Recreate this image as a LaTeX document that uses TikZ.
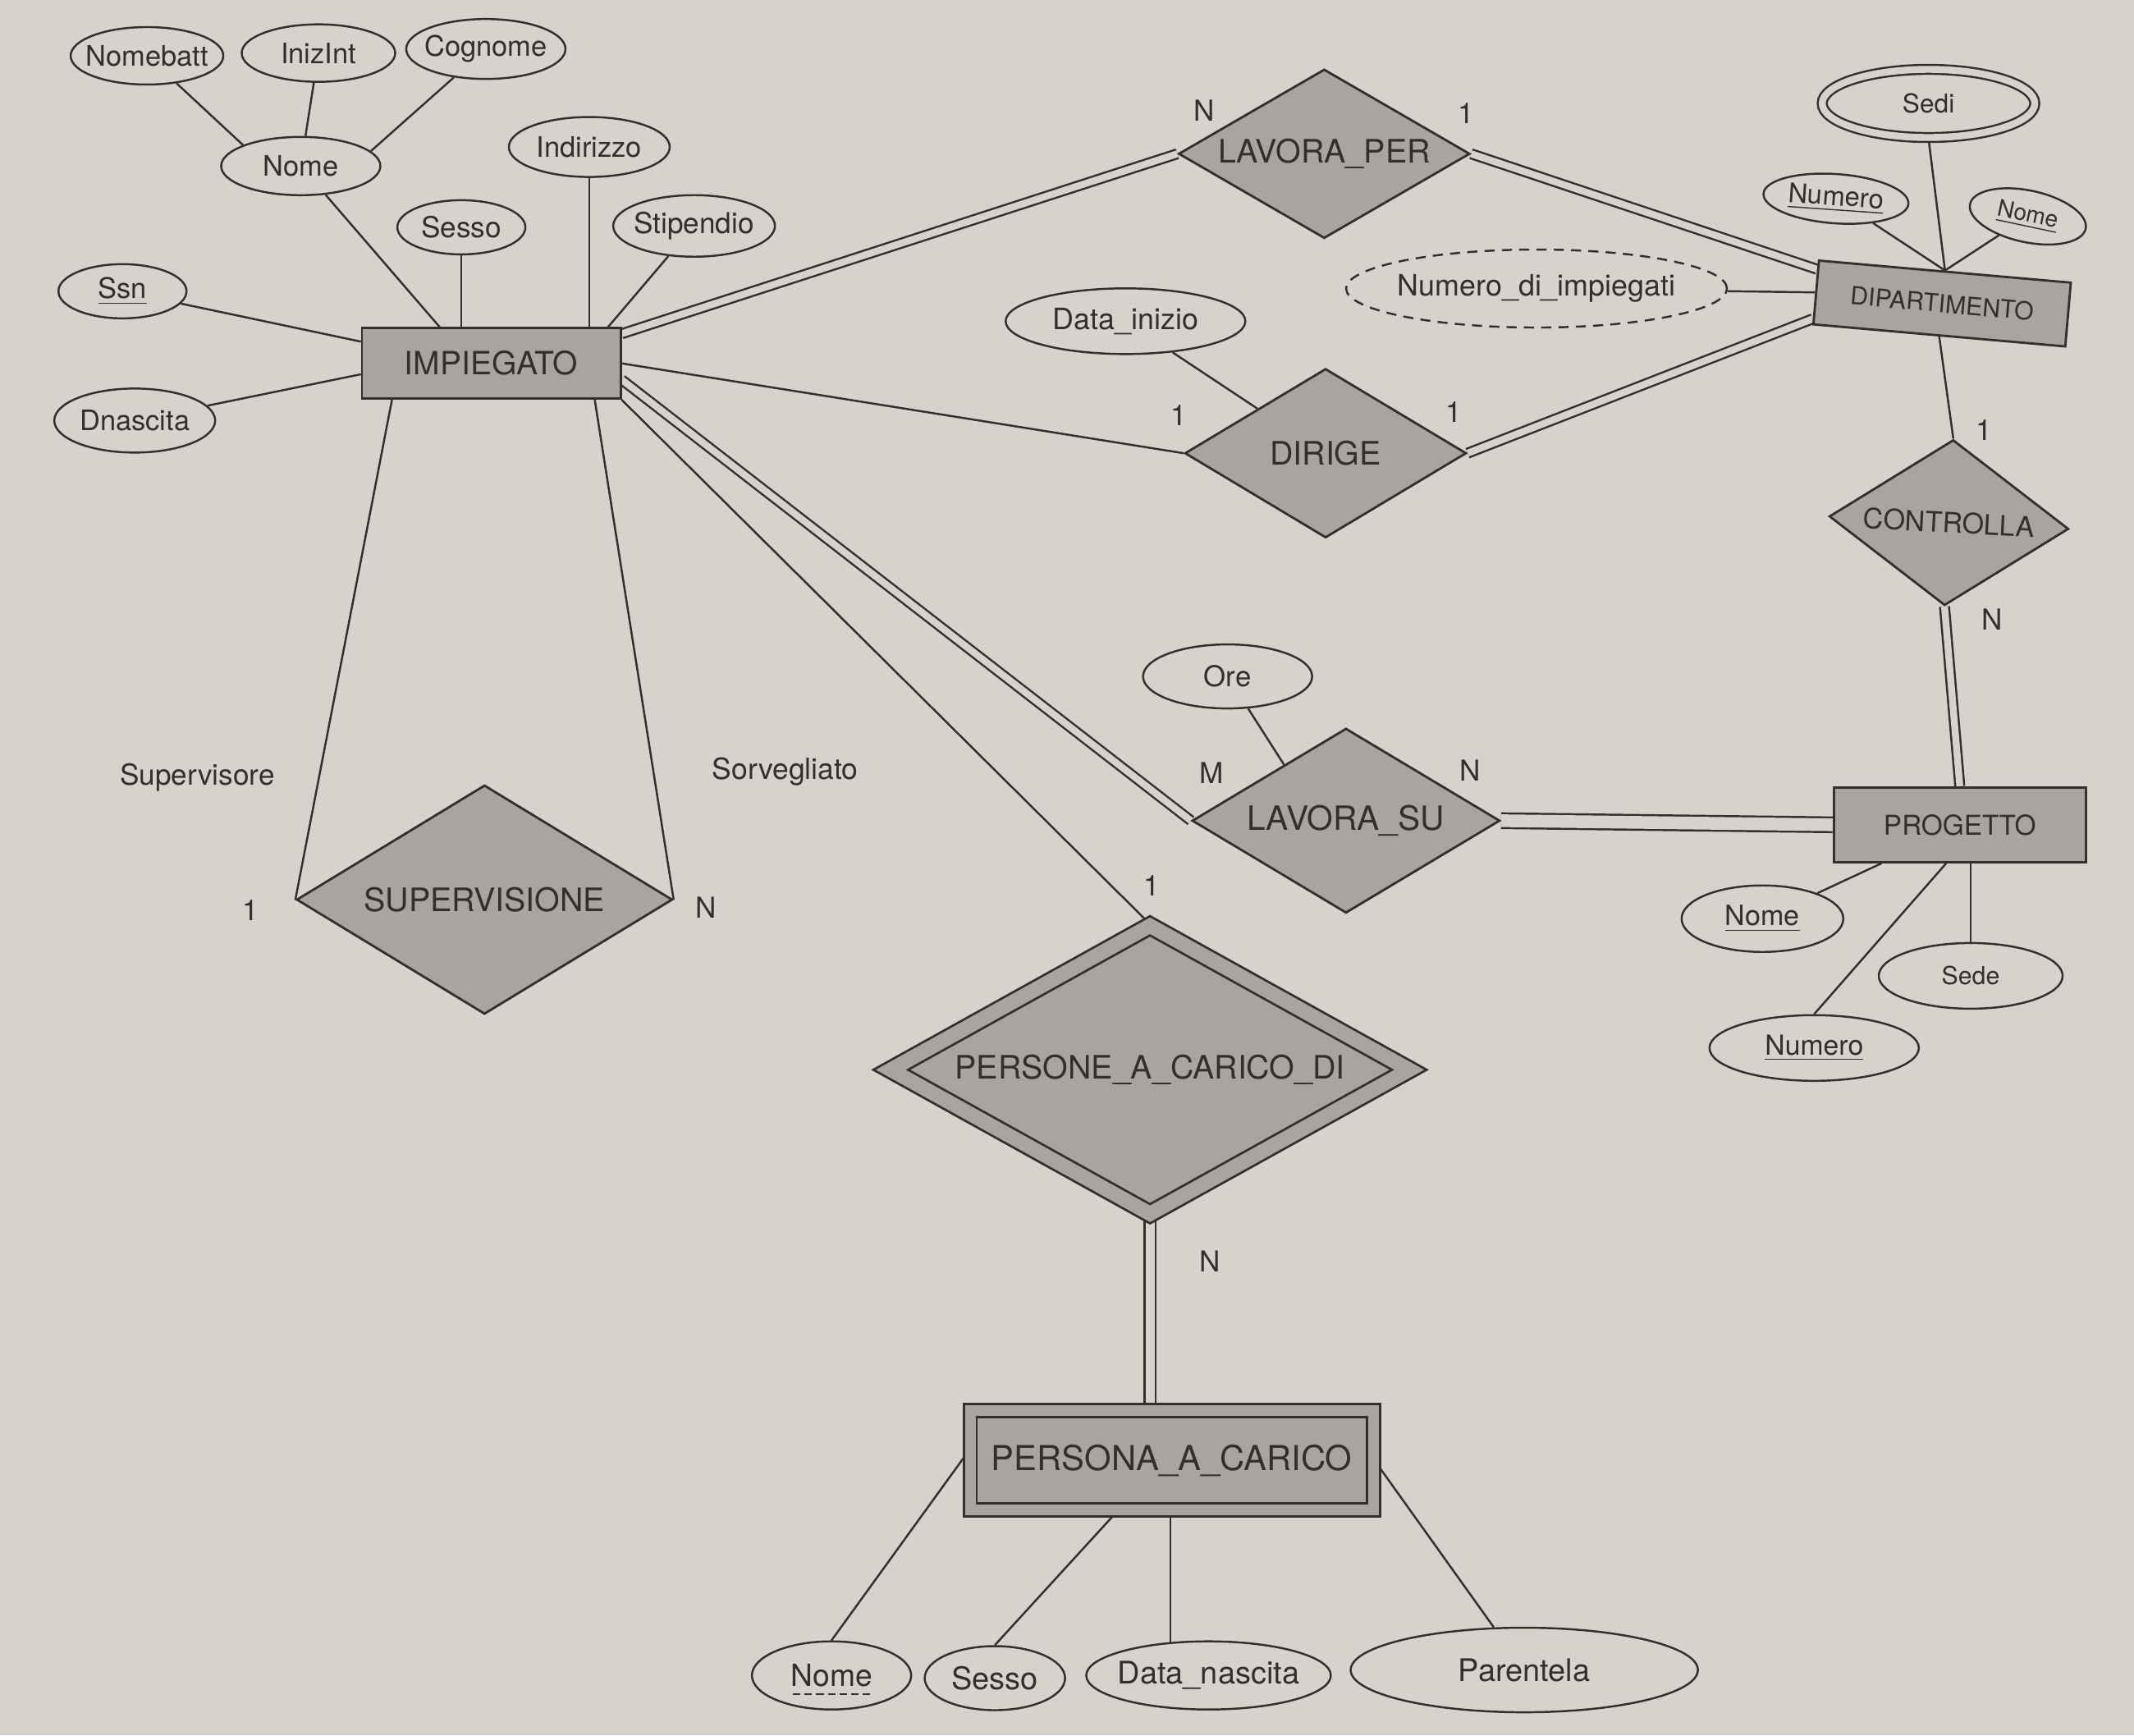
\documentclass[tikz,border=0pt]{standalone}
\usepackage{fontspec}
\setmainfont{TeX Gyre Heros}
\usetikzlibrary{shapes.geometric, calc, backgrounds}
\definecolor{paper}{RGB}{214,211,205}
\definecolor{shade}{RGB}{168,165,160}
\definecolor{ink}{RGB}{50,48,46}
\newcommand{\dashunder}[1]{\setbox0=\hbox{#1}\rlap{\raisebox{-3pt}[0pt][0pt]{\hbox to \wd0{\xleaders\hbox to 4pt{\hss\vrule width 2.6pt height 0.6pt depth 0pt\hss}\hfill}}}\box0}
\tikzset{
  entity/.style={rectangle, draw=ink, fill=shade, line width=0.8pt, inner sep=-1cm, text=ink, font=\fontsize{11.1}{13}\selectfont},
  relation/.style={diamond, draw=ink, fill=shade, line width=0.8pt, inner sep=-2cm, text=ink, font=\fontsize{11.2}{13}\selectfont},
  attr/.style={ellipse, draw=ink, line width=0.7pt, inner sep=-2cm, text=ink, font=\fontsize{9.8}{12}\selectfont},
  card/.style={text=ink, inner sep=0pt, font=\fontsize{10}{12}\selectfont},
  link/.style={draw=ink, line width=0.7pt},
  total/.style={link, double=paper, double distance=2.4pt},
}

\begin{document}
\begin{tikzpicture}[x=0.1658mm, y=-0.1658mm]
  \useasboundingbox (0,0) rectangle (1568,1275);
  % Entita
  \node[entity, minimum width=3.15cm, minimum height=0.86cm] (imp) at (361,267) {IMPIEGATO};
  \node[entity, minimum width=3.08cm, minimum height=0.78cm, rotate=-5, font=\fontsize{8.6}{10}\selectfont] (dip) at (1427,223) {DIPARTIMENTO};
  \node[entity, minimum width=3.07cm, minimum height=0.91cm, font=\fontsize{9.5}{11}\selectfont] (prog) at (1440,606) {PROGETTO};
  \node[entity, double=shade, double distance=3.7pt, minimum width=4.91cm, minimum height=1.21cm, font=\fontsize{11.9}{14}\selectfont] (pac) at (861,1073) {PERSONA\_A\_CARICO};
  % Relazioni
  \node[relation, minimum width=3.55cm, minimum height=2.06cm] (lp) at (973,113) {LAVORA\_PER};
  \node[relation, minimum width=3.43cm, minimum height=2.06cm] (dir) at (974,333) {DIRIGE};
  \node[relation, minimum width=2.92cm, minimum height=2.02cm, rotate=-3, font=\fontsize{9.7}{11}\selectfont] (ctl) at (1432,384) {CONTROLLA};
  \node[relation, minimum width=3.75cm, minimum height=2.25cm, font=\fontsize{11.6}{13}\selectfont] (ls) at (989,603) {LAVORA\_SU};
  \node[relation, minimum width=4.58cm, minimum height=2.79cm] (sup) at (356,661) {SUPERVISIONE};
  \node[relation, double=shade, double distance=5pt, minimum width=6.33cm, minimum height=3.52cm] (pcd) at (845,786) {PERSONE\_A\_CARICO\_DI};
  % Attributi di IMPIEGATO
  \node[attr, minimum width=1.86cm, minimum height=0.70cm] (nomebatt) at (108,41) {Nomebatt};
  \node[attr, minimum width=1.87cm, minimum height=0.70cm] (inizint) at (234,39) {InizInt};
  \node[attr, minimum width=1.94cm, minimum height=0.73cm] (cognome) at (357,36) {Cognome};
  \node[attr, minimum width=1.94cm, minimum height=0.71cm] (nome) at (221,122) {Nome};
  \node[attr, minimum width=1.96cm, minimum height=0.73cm] (indirizzo) at (433,108) {Indirizzo};
  \node[attr, minimum width=1.56cm, minimum height=0.66cm, font=\fontsize{10}{12}\selectfont] (sesso) at (339,167) {Sesso};
  \node[attr, minimum width=1.97cm, minimum height=0.75cm, font=\fontsize{10}{12}\selectfont] (stipendio) at (510,166) {Stipendio};
  \node[attr, minimum width=1.56cm, minimum height=0.66cm] (ssn) at (90,214) {\underline{Ssn}};
  \node[attr, minimum width=1.96cm, minimum height=0.78cm] (dnascita) at (99,309) {Dnascita};
  % Attributi di DIPARTIMENTO e delle relazioni
  \node[attr, minimum width=2.92cm, minimum height=0.80cm, font=\fontsize{10.2}{12}\selectfont] (datainizio) at (827,236) {Data\_inizio};
  \node[attr, dashed, dash pattern=on 3.5pt off 2.5pt, minimum width=4.64cm, minimum height=0.95cm, font=\fontsize{10.2}{12}\selectfont] (numimp) at (1129,212) {Numero\_di\_impiegati};
  \node[attr, double=paper, double distance=2.4pt, minimum width=2.59cm, minimum height=0.83cm, font=\fontsize{9}{11}\selectfont] (sedi) at (1417,76) {Sedi};
  \node[attr, minimum width=1.77cm, minimum height=0.60cm, rotate=-4, font=\fontsize{9.3}{11}\selectfont] (numerod) at (1349,146) {\underline{Numero}};
  \node[attr, minimum width=1.44cm, minimum height=0.63cm, rotate=-12, font=\fontsize{8}{10}\selectfont] (nomed) at (1490,159) {\underline{Nome}};
  \node[attr, minimum width=2.06cm, minimum height=0.78cm, font=\fontsize{9.9}{12}\selectfont] (ore) at (902,497) {Ore};
  % Attributi di PROGETTO
  \node[attr, minimum width=1.97cm, minimum height=0.81cm, font=\fontsize{9.7}{12}\selectfont] (nomep) at (1295,675) {\underline{Nome}};
  \node[attr, minimum width=2.24cm, minimum height=0.80cm, font=\fontsize{8.6}{10}\selectfont] (sede) at (1448,717) {Sede};
  \node[attr, minimum width=2.55cm, minimum height=0.80cm, font=\fontsize{9.6}{12}\selectfont] (numerop) at (1333,770) {\underline{Numero}};
  % Attributi di PERSONA_A_CARICO
  \node[attr, minimum width=1.94cm, minimum height=0.83cm, font=\fontsize{10.6}{13}\selectfont] (nomepac) at (611,1231) {\dashunder{Nome}};
  \node[attr, minimum width=1.71cm, minimum height=0.78cm, font=\fontsize{10.8}{13}\selectfont] (sessopac) at (731,1233) {Sesso};
  \node[attr, minimum width=2.98cm, minimum height=0.83cm, font=\fontsize{10.8}{13}\selectfont] (datanascita) at (888,1231) {Data\_nascita};
  \node[attr, minimum width=4.23cm, minimum height=1.03cm, font=\fontsize{10.8}{13}\selectfont] (parentela) at (1120,1227) {Parentela};
  % Cardinalita e ruoli
  \node[card] (lpn) at (885,81) {N};
  \node[card] (lp1) at (1077,83) {1};
  \node[card] (dira) at (866,305) {1};
  \node[card] (dirb) at (1068,303) {1};
  \node[card] (ctl1) at (1458,316) {1};
  \node[card] (ctln) at (1464,455) {N};
  \node[card] (lsm) at (890,568) {M};
  \node[card] (lsn) at (1080,566) {N};
  \node[card] (pcd1) at (846,651) {1};
  \node[card] (pcdn) at (889,927) {N};
  \node[card] (sup1) at (184,669) {1};
  \node[card] (supn) at (519,667) {N};
  \node[card] (supervisore) at (145,571) {Supervisore};
  \node[card, font=\fontsize{10.1}{12}\selectfont] (sorvegliato) at (577,567) {Sorvegliato};

  \begin{pgfonlayer}{background}
    \fill[paper] (0,0) rectangle (1568,1275);
    % Paths
    \path[link]
    (nomebatt) edge (nome.160)
    (inizint) edge (nome)
    (cognome) edge (nome.12)
    (nome) edge ($(imp.north)+(-38,0)$)
    (sesso) edge (sesso |- imp.north)
    (indirizzo) edge (indirizzo |- imp.north)
    (stipendio) edge ($(imp.north east)+(-10,0)$)
    (ssn) edge ($(imp.west)+(0,-16)$)
    (dnascita) edge ($(imp.west)+(0,8)$)
    ($(imp.north east)+(0,5)$) edge[total] (lp.west)
    (lp.east) edge[total] ($(dip.north west)!0.15!(dip.south west)$)
    (imp.east) edge (dir.west)
    (dir.east) edge[total] ($(dip.south west)!0.1!(dip.north west)$)
    (datainizio) edge ($(dir.north)!0.48!(dir.west)$)
    (numimp) edge (dip.west)
    (sedi.south) edge (dip.north)
    (numerod) edge (dip.north)
    (nomed) edge (dip.north)
    (dip.south) edge (ctl.north)
    (ctl.south) edge[total] (prog.north)
    ($(imp.east)+(0,12)$) edge[total] (ls.west)
    (ore) edge ($(ls.north)!0.4!(ls.west)$)
    (ls.east) edge[total, double distance=4.4pt] (prog.west)
    ($(prog.south west)+(36,0)$) edge (nomep)
    ($(prog.south)+(-10,0)$) edge (numerop.north)
    (sede.north |- prog.south) edge (sede.north)
    ($(imp.south)+(-73,0)$) edge (sup.west)
    ($(imp.south)+(76,0)$) edge (sup.east)
    (imp.south east) edge (pcd.north)
    (pcd.south) edge[total, double distance=3.2pt] (pcd.south |- pac.north)
    ($(pac.north west)!0.4!(pac.south west)$) edge (nomepac.north)
    ($(pac.south)+(-40,0)$) edge (sessopac.north)
    (datanascita.139 |- pac.south) edge (datanascita.139)
    (pac.east) edge (parentela);
  \end{pgfonlayer}
\end{tikzpicture}
\end{document}
